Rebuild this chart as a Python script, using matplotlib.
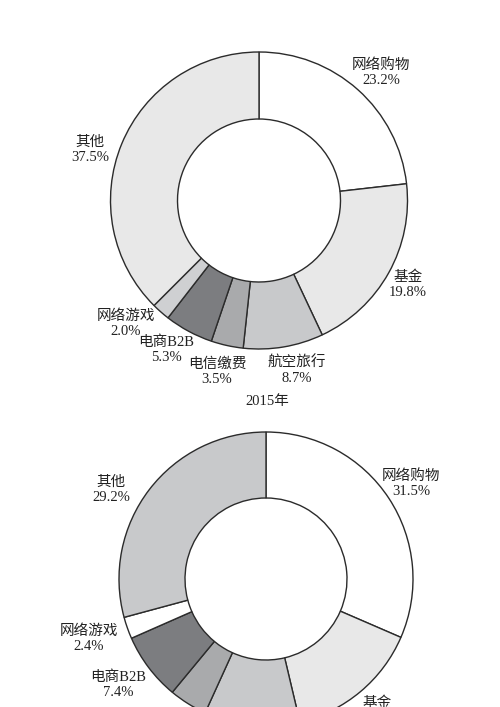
import matplotlib.pyplot as plt

# 数据
categorias = ['网络购物', '基金', '航空旅行', '电信缴费', '电商B2B', '网络游戏', '其他']
valores_2015 = [23.2, 19.8, 8.7, 3.5, 5.3, 2.0, 37.5]
valores_2016 = [31.5, 14.8, 10.5, 4.2, 7.4, 2.4, 29.2]
titulos = ['2015年', '2016年']

# 颜色
colores_2015 = ['#ffffff', '#e8e8e8', '#c8c9cb', '#a9aaac', '#7c7d80', '#cfd0d2', '#e8e8e8']
colores_2016 = ['#ffffff', '#e8e8e8', '#c8c9cb', '#a9aaac', '#7c7d80', '#ffffff', '#c8c9cb']

H = 707
fuente = ['Liberation Serif', 'Noto Sans CJK SC']

fig = plt.figure(figsize=(5, 7.07), dpi=100)
ax = fig.add_axes([0, 0, 1, 1])
ax.axis('off')

# --- posiciones (pixeles de la imagen, y hacia abajo) ---
centros = [(259, 200.5), (266, 579)]
radios = [148.5, 147]
anchos = [67, 66]
pos_etiquetas = [
    [(381, 73), (408, 285), (297, 370), (217, 372), (166, 350), (126, 324), (90, 150)],
    [(411, 484), (377, 711), (290, 752), (205, 748), (118, 685), (89, 639), (111, 490)],
]
pos_titulos = [(267, 402), (270, 790)]

for k, (valores, colores) in enumerate([(valores_2015, colores_2015),
                                         (valores_2016, colores_2016)]):
    cx, cy = centros[k]
    ax.pie(valores, colors=colores, startangle=90, counterclock=False,
           center=(cx, H - cy), radius=radios[k],
           wedgeprops=dict(width=anchos[k], edgecolor='#2b2b2b', linewidth=1.0))
    for nombre, v, (x, y) in zip(categorias, valores, pos_etiquetas[k]):
        ax.text(x, H - y, f'{nombre}\n{v:.1f}%', ha='center', va='center',
                fontsize=10.5, family=fuente, color='#222222', linespacing=1.2)
    tx, ty = pos_titulos[k]
    ax.text(tx, H - ty, titulos[k], ha='center', va='center',
            fontsize=10.5, family=fuente, color='#222222')

ax.set_xlim(0, 500)
ax.set_ylim(0, H)
ax.set_aspect('equal')

plt.savefig('out.png', dpi=100)
